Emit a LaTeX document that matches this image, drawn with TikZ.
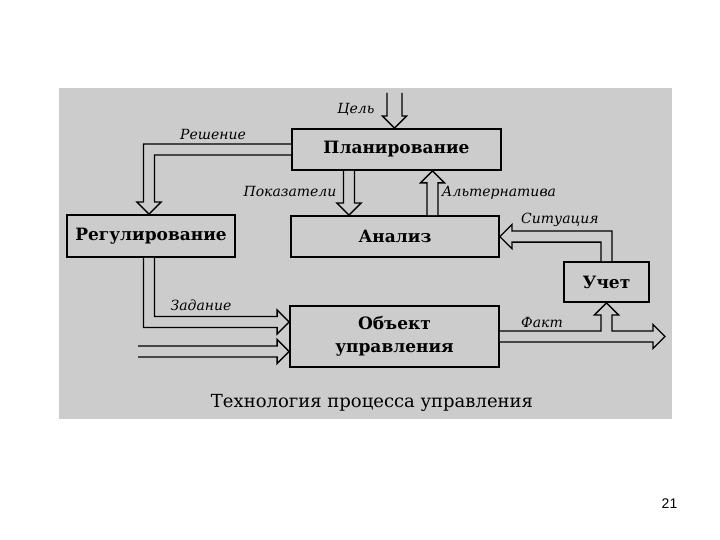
\documentclass[tikz,border=0pt]{standalone}
\usepackage{fontspec}
\setmainfont{DejaVu Serif}
\newfontfamily\pagefont{Liberation Sans}
\usetikzlibrary{calc}
\definecolor{bggray}{RGB}{204,204,204}

\newcommand\hollowarrow[3][5.5]{%
  \coordinate (hb) at ($(#3)!12pt!(#2)$);
  \draw[blk] ($(#2)!#1pt!90:(#3)$) -- ($(hb)!#1pt!90:(#3)$) -- ($(hb)!12pt!90:(#3)$) -- (#3)
    -- ($(hb)!12pt!-90:(#3)$) -- ($(hb)!#1pt!-90:(#3)$) -- ($(#2)!#1pt!-90:(#3)$);
}

\begin{document}
\begin{tikzpicture}[x=1pt, y=-1pt,
  box/.style={draw, line width=1.8pt, fill=bggray, inner sep=0pt, align=center,
    font=\fontsize{17}{23}\selectfont\bfseries},
  lbl/.style={inner sep=0pt, font=\fontsize{14}{16}\selectfont\itshape},
  blk/.style={draw, line width=1.3pt, fill=bggray, line join=miter},
]
\fill[white] (0,0) rectangle (720,540);
\useasboundingbox (0,0) rectangle (720,540);
\fill[bggray] (59,88) rectangle (672,419);

\node[box, minimum width=209pt, minimum height=41pt] (plan) at (396.5,149.5) {Планирование};
\node[box, minimum width=168pt, minimum height=42pt] (reg) at (151,236) {Регулирование};
\node[box, minimum width=208pt, minimum height=41pt] (anal) at (395,236.5) {Анализ};
\node[box, minimum width=85pt, minimum height=40pt] (uchet) at (606.5,282) {Учет};
\node[box, minimum width=209pt, minimum height=61pt] (obj) at (394.5,336.5) {Объект\\управления};

\coordinate (goal) at (394.5,93);
\coordinate (ind) at ($(plan.south)+(-47.5,0)$);
\coordinate (alt) at ($(anal.north)+(37.5,0)$);
\coordinate (inp) at (138,351.5);
\coordinate (decc) at (149,149.5);
\coordinate (taskc) at (149,322);
\coordinate (sitc) at ($(uchet.north)+(0,-24.5)$);
\coordinate (factc) at (uchet.south |- obj.east);
\coordinate (factend) at (665,336.5);

\hollowarrow[7.5]{goal}{goal |- plan.north}
\hollowarrow{ind}{ind |- anal.north}
\hollowarrow{alt}{alt |- plan.south}
\hollowarrow{inp}{inp -| obj.west}

\draw[blk] ($(plan.west)+(0,-5.5)$) -- ($(decc)+(-5.5,-5.5)$) -- ($(decc |- reg.north)+(-5.5,-12)$)
  -- ++(-6.5,0) -- (decc |- reg.north) -- ++(12,-12) -- ++(-6.5,0) -- ($(decc)+(5.5,5.5)$)
  -- ($(plan.west)+(0,5.5)$);
\draw[blk] ($(reg.south -| taskc)+(-5.5,0)$) -- ($(taskc)+(-5.5,5.5)$) -- ($(taskc -| obj.west)+(-12,5.5)$)
  -- ++(0,6.5) -- (taskc -| obj.west) -- ++(-12,-12) -- ++(0,6.5) -- ($(taskc)+(5.5,-5.5)$)
  -- ($(reg.south -| taskc)+(5.5,0)$);
\draw[blk] ($(uchet.north)+(5.5,0)$) -- ($(sitc)+(5.5,-5.5)$) -- ($(sitc -| anal.east)+(12,-5.5)$)
  -- ++(0,-6.5) -- (sitc -| anal.east) -- ++(12,12) -- ++(0,-6.5) -- ($(sitc)+(-5.5,5.5)$)
  -- ($(uchet.north)+(-5.5,0)$);
\draw[blk] ($(obj.east)+(0,-5.5)$) -- ($(factc)+(-5.5,-5.5)$) -- ($(uchet.south)+(-5.5,12)$)
  -- ++(-6.5,0) -- (uchet.south) -- ++(12,12) -- ++(-6.5,0) -- ($(factc)+(5.5,-5.5)$)
  -- ($(factend)+(-12,-5.5)$) -- ++(0,-6.5) -- (factend) -- ++(-12,12) -- ++(0,-6.5)
  -- ($(obj.east)+(0,5.5)$);

\node[lbl] (goallbl) at (356,109) {Цель};
\node[lbl] (declbl) at (213,134) {Решение};
\node[lbl] (indlbl) at (290,191) {Показатели};
\node[lbl] (altlbl) at (499,193) {Альтернатива};
\node[lbl] (sitlbl) at (560,220) {Ситуация};
\node[lbl] (tasklbl) at (201,305) {Задание};
\node[lbl] (factlbl) at (542,322) {Факт};

\node[inner sep=0pt, font=\fontsize{18}{20}\selectfont] (title) at (372,403) {Технология процесса управления};
\node[inner sep=0pt, font=\pagefont\fontsize{14}{16}\selectfont] (page) at (669.5,504) {21};
\end{tikzpicture}
\end{document}
